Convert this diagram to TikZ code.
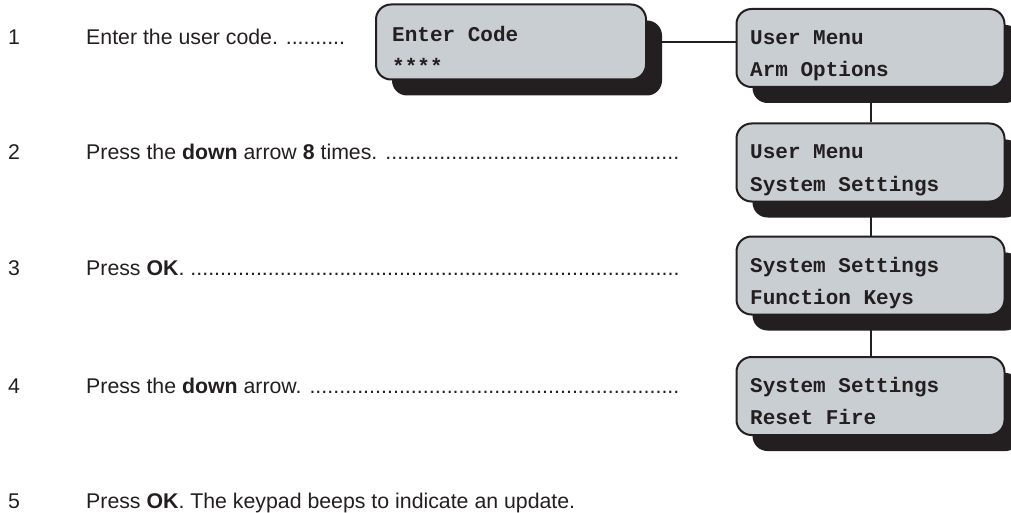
\documentclass[tikz,border=0pt]{standalone}
\usepackage{fontspec}
\setmainfont{Liberation Sans}
\newfontfamily\lcdfont{Liberation Mono}
\usetikzlibrary{shadows}
\definecolor{inkc}{HTML}{231F20}
\definecolor{lcdc}{HTML}{C9CED3}
\tikzset{
  lcdbox/.style={draw=inkc, line width=2pt, fill=lcdc, rounded corners=15pt,
    minimum width=#1, minimum height=78pt, inner sep=0pt,
    drop shadow={shadow xshift=16pt, shadow yshift=-16pt, fill=inkc, opacity=1}},
  lcdtext/.style={anchor=base west, inner sep=0pt, text=inkc,
    font=\lcdfont\bfseries\fontsize{21}{21}\selectfont},
  steptext/.style={anchor=base west, inner sep=0pt, text=inkc,
    font=\fontsize{21.3}{25}\selectfont},
  link/.style={draw=inkc, line width=2pt}
}
\newcommand{\dotrow}[1]{\hbox to 593pt{#1 \xleaders\hbox{.}\hfill}}
\begin{document}
\begin{tikzpicture}[x=1pt,y=-1pt]
\useasboundingbox (0,0) rectangle (1011,513);
% boxes
\node[lcdbox=270pt, minimum height=75pt] (b0) at (511,42) {};
\node[lcdbox=268pt] (b1) at (870.5,48) {};
\node[lcdbox=268pt] (b2) at (870.5,162.5) {};
\node[lcdbox=268pt] (b3) at (870.5,275.5) {};
\node[lcdbox=268pt] (b4) at (870.5,396) {};
% connectors
\draw[link] (b0.east) -- (b0.east -| b1.west);
\draw[link] (b1.south) -- (b2.north);
\draw[link] (b2.south) -- (b3.north);
\draw[link] (b3.south) -- (b4.north);
% box texts
\node[lcdtext] (b0a) at (392,42) {Enter Code};
\node[lcdtext] (b0b) at (392,74) {****};
\node[lcdtext] (b1a) at (750,45) {User Menu};
\node[lcdtext] (b1b) at (750,77) {Arm Options};
\node[lcdtext] (b2a) at (750,159) {User Menu};
\node[lcdtext] (b2b) at (750,191) {System Settings};
\node[lcdtext] (b3a) at (750,272) {System Settings};
\node[lcdtext] (b3b) at (750,304) {Function Keys};
\node[lcdtext] (b4a) at (750,392) {System Settings};
\node[lcdtext] (b4b) at (750,424) {Reset Fire};
% steps
\node[steptext] (n1) at (8,45) {1};
\node[steptext] (s1) at (86,45) {Enter the user code. ..........};
\node[steptext] (n2) at (8,160) {2};
\node[steptext] (s2) at (86,160) {\dotrow{Press the \textbf{down} arrow \textbf{8} times.}};
\node[steptext] (n3) at (8,275) {3};
\node[steptext] (s3) at (86,275) {\dotrow{Press \textbf{OK}.}};
\node[steptext] (n4) at (8,393) {4};
\node[steptext] (s4) at (86,393) {\dotrow{Press the \textbf{down} arrow.}};
\node[steptext] (n5) at (8,508) {5};
\node[steptext] (s5) at (86,508) {Press \textbf{OK}. The keypad beeps to indicate an update.};
\end{tikzpicture}
\end{document}
